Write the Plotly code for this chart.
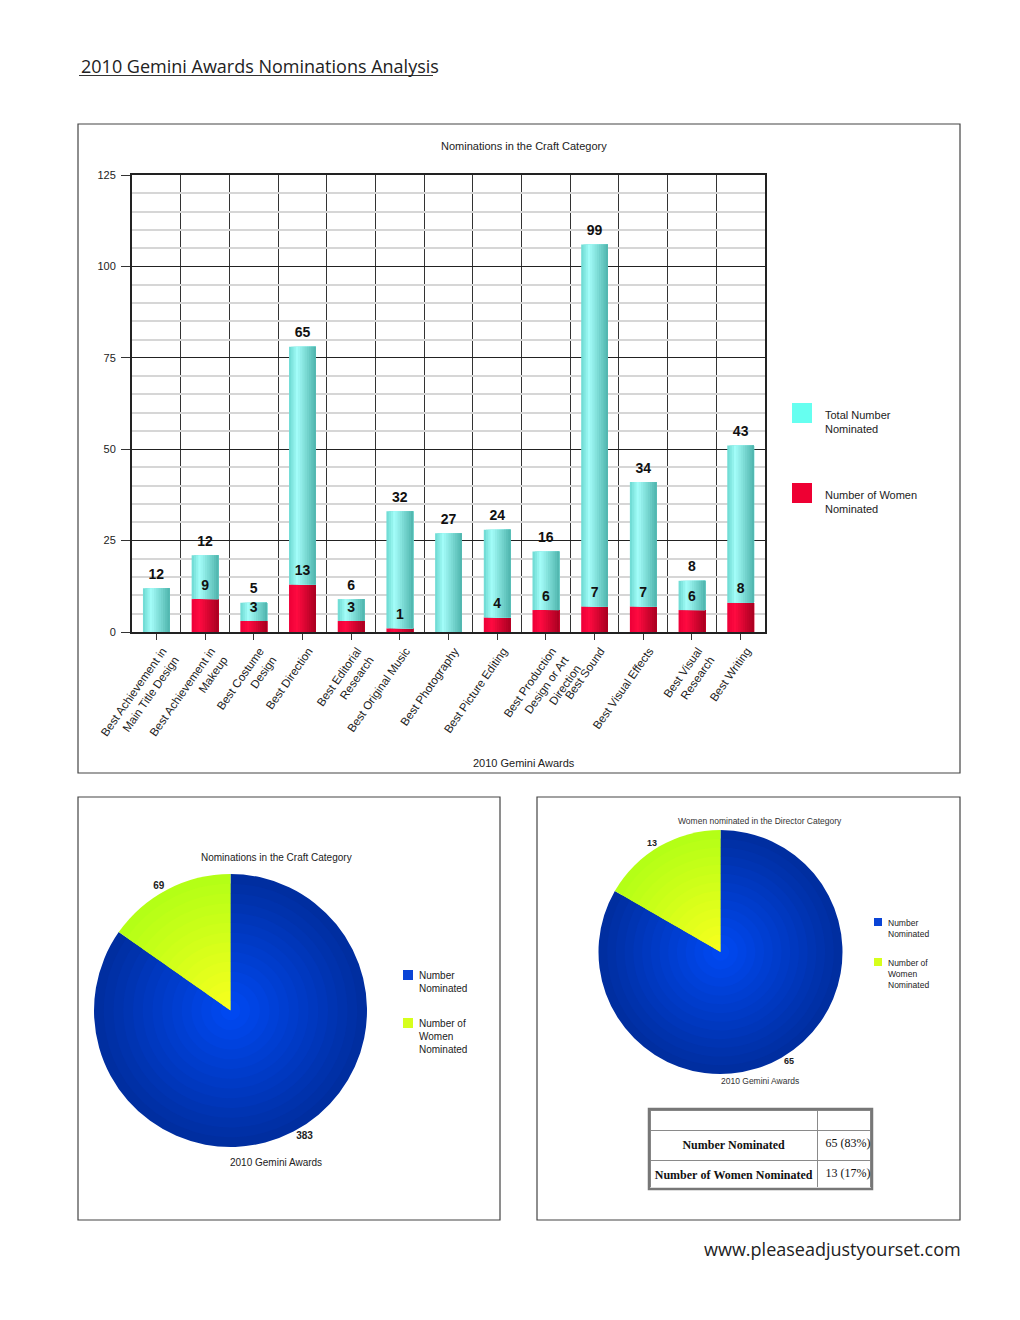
import numpy as np
import plotly.graph_objects as go

W, H = 1020, 1320

# data
categories = [
    "Best Achievement in<br>Main Title Design", "Best Achievement in<br>Makeup",
    "Best Costume<br>Design", "Best Direction", "Best Editorial<br>Research",
    "Best Original Music", "Best Photography", "Best Picture Editing",
    "Best Production<br>Design or Art<br>Direction", "Best Sound",
    "Best Visual Effects", "Best Visual<br>Research", "Best Writing",
]
total_nominated = [12, 12, 5, 65, 6, 32, 27, 24, 16, 99, 34, 8, 43]
women_nominated = [0, 9, 3, 13, 3, 1, 0, 4, 6, 7, 7, 6, 8]

pie_labels = ["Number Nominated", "Number of Women Nominated"]
craft_values = [383, 69]
director_values = [65, 13]


def px(x):
    return x / W


def py(y):
    return 1 - y / H


def grad(stops, t):
    # piecewise linear colour between (pos, (r,g,b)) stops
    for (p0, c0), (p1, c1) in zip(stops[:-1], stops[1:]):
        if t <= p1:
            f = (t - p0) / (p1 - p0) if p1 > p0 else 0
            c = [round(a + (b - a) * f) for a, b in zip(c0, c1)]
            return "rgb(%d,%d,%d)" % tuple(c)
    return "rgb(%d,%d,%d)" % stops[-1][1]


CYAN = [(0, (106, 216, 208)), (0.3, (164, 253, 249)), (1, (78, 180, 172))]
RED = [(0, (236, 0, 56)), (0.3, (255, 10, 64)), (1, (168, 0, 32))]
BLUE = [(0, (0, 46, 160)), (1, (0, 72, 240))]
YELLOW = [(0, (180, 255, 22)), (1, (246, 255, 30))]

fig = go.Figure()

# ---- stacked bars, drawn as thin strips to get the cylinder shading ----
idx = np.arange(len(categories))
women = np.array(women_nominated)
total = np.array(total_nominated)
BAR_W = 0.55
N_STRIP = 12
for base, vals, stops in [(np.zeros_like(women), women, RED), (women, total, CYAN)]:
    for i in range(N_STRIP):
        fig.add_bar(
            x=idx, y=vals, base=base,
            offset=-BAR_W / 2 + i * BAR_W / N_STRIP,
            width=BAR_W - i * BAR_W / N_STRIP,
            marker=dict(color=grad(stops, (i + 0.5) / N_STRIP), line=dict(width=0)),
            showlegend=False, hoverinfo="skip",
        )

# value labels; the invisible marker pushes the text a little higher
lbl_font = dict(family="Liberation Sans", size=14, color="#111")
ghost = dict(size=8, color="rgba(0,0,0,0)")
fig.add_scatter(x=idx, y=women + total, text=["<b>%d</b>" % v for v in total],
                mode="markers+text", marker=ghost, textposition="top center",
                textfont=lbl_font, showlegend=False, hoverinfo="skip")
has_w = women > 0
fig.add_scatter(x=idx[has_w], y=women[has_w], text=["<b>%d</b>" % v for v in women[has_w]],
                mode="markers+text", marker=ghost, textposition="top center",
                textfont=lbl_font, showlegend=False, hoverinfo="skip")

# ---- pies, layered rings for the radial shading ----
def add_pie(values, cx, cy, r, tsize):
    n = 14
    for k in range(n):
        rk = r * (1 - k / n)
        t = k / (n - 1)
        fig.add_pie(
            values=values, labels=pie_labels, sort=False,
            direction="clockwise", rotation=0,
            domain=dict(x=[px(cx - rk), px(cx + rk)], y=[py(cy + rk), py(cy - rk)]),
            marker=dict(colors=[grad(BLUE, t), grad(YELLOW, t)], line=dict(width=0)),
            textinfo="value" if k == 0 else "none",
            texttemplate="<b>%{value}</b>" if k == 0 else None,
            textposition="outside",
            textfont=dict(family="Liberation Sans", size=tsize, color="#222"),
            showlegend=False, hoverinfo="skip",
        )


add_pie(craft_values, 230.5, 1010.5, 136.5, 10)
add_pie(director_values, 720.5, 952, 122, 9)

# ---- table under the director pie ----
NB = "\u00a0"  # keep cell text on one line
pct = [round(100 * v / sum(director_values)) for v in director_values]
TAB_TOP, TAB_BOT = 1110, 1188
fig.add_table(
    domain=dict(x=[px(650), px(871)], y=[py(TAB_BOT), py(TAB_TOP)]),
    columnwidth=[169, 54],
    header=dict(values=["", ""], height=20, fill_color="white",
                line=dict(color="#8a8a8a", width=1)),
    cells=dict(
        values=[["<b>%s</b>" % l.replace(" ", NB) for l in pie_labels],
                ["%d%s(%d%%)" % (v, NB, p) for v, p in zip(director_values, pct)]],
        height=19, align=["center", "left"], fill_color="white",
        line=dict(color="#8a8a8a", width=1),
        font=dict(family="Liberation Serif", size=12, color="#111"),
    ),
)

# ---- frames, legends, titles ----
shapes = [
    dict(type="rect", x0=px(78), x1=px(960), y0=py(124), y1=py(773)),
    dict(type="rect", x0=px(78), x1=px(500), y0=py(797), y1=py(1220)),
    dict(type="rect", x0=px(537), x1=px(960), y0=py(797), y1=py(1220)),
]
for s in shapes:
    s.update(xref="paper", yref="paper", line=dict(color="#444", width=1.2))
shapes.append(dict(type="rect", xref="paper", yref="paper", x0=px(649), x1=px(872),
                   y0=py(TAB_BOT + 1), y1=py(TAB_TOP - 1), line=dict(color="#777", width=2.5)))
shapes.append(dict(type="line", xref="paper", yref="paper", x0=px(79), x1=px(433),
                   y0=py(75.5), y1=py(75.5), line=dict(color="#333", width=1)))

legend_boxes = [
    (792, 403, 20, "#66fff0", 823, 407, "Total Number<br>Nominated", 11),
    (792, 483, 20, "#ee0033", 823, 487, "Number of Women<br>Nominated", 11),
    (403, 970, 10, "#0a44d6", 417, 968, "Number<br>Nominated", 10),
    (403, 1018, 10, "#d6ff1c", 417, 1016, "Number of<br>Women<br>Nominated", 10),
    (874, 918, 8, "#0a44d6", 886, 916, "Number<br>Nominated", 8.5),
    (874, 958, 8, "#d6ff1c", 886, 956, "Number of<br>Women<br>Nominated", 8.5),
]
annotations = []
for x0, y0, sz, col, tx, ty, txt, fs in legend_boxes:
    shapes.append(dict(type="rect", xref="paper", yref="paper", x0=px(x0), x1=px(x0 + sz),
                       y0=py(y0 + sz), y1=py(y0), fillcolor=col, line=dict(width=0)))
    annotations.append(dict(x=px(tx), y=py(ty), xanchor="left", yanchor="top",
                            text=txt, align="left", font=dict(size=fs, color="#222")))


def label(x, y, text, size, **kw):
    d = dict(x=px(x), y=py(y), text=text, font=dict(size=size, color="#222"),
             xanchor="center", yanchor="middle")
    d.update(kw)
    annotations.append(d)


label(79, 66, "2010 Gemini Awards Nominations Analysis", 18, xanchor="left",
      font=dict(family="Open Sans", size=18, color="#222"))
label(963, 1249, "www.pleaseadjustyourset.com", 18, xanchor="right",
      font=dict(family="Open Sans", size=18, color="#222"))
label(524, 146, "Nominations in the Craft Category", 11)
label(524, 763, "2010 Gemini Awards", 11)
label(276, 857, "Nominations in the Craft Category", 10)
label(276, 1162, "2010 Gemini Awards", 10)
label(760, 821, "Women nominated in the Director Category", 8.5,
      font=dict(size=8.5, color="#333"))
label(760, 1081, "2010 Gemini Awards", 8.5, font=dict(size=8.5, color="#333"))

for a in annotations:
    a.update(xref="paper", yref="paper", showarrow=False)

fig.update_layout(
    template="none",
    width=W, height=H,
    margin=dict(l=0, r=0, t=0, b=0),
    paper_bgcolor="white", plot_bgcolor="white",
    font=dict(family="Liberation Sans", color="#222"),
    barmode="overlay",
    showlegend=False,
    shapes=shapes,
    annotations=annotations,
    xaxis=dict(
        domain=[px(132), px(765)], range=[-0.5, len(categories) - 0.5],
        tickmode="array", tickvals=idx, ticktext=categories, tickangle=-55,
        ticks="outside", ticklen=6, tickcolor="#333",
        tickfont=dict(size=11.6, color="#222"), ticklabelshift=6,
        showgrid=False, zeroline=False,
        showline=True, linecolor="#222", linewidth=1.5, mirror=True,
        minor=dict(tick0=-0.5, dtick=1, showgrid=True, gridcolor="#333",
                   gridwidth=1, ticks=""),
        anchor="y", fixedrange=True,
    ),
    yaxis=dict(
        domain=[py(632), py(175)], range=[0, 125], tick0=0, dtick=25,
        ticks="outside", ticklen=9, tickcolor="#333", ticklabelstandoff=3,
        tickfont=dict(size=11, color="#222"),
        showgrid=True, gridcolor="#222", gridwidth=1,
        minor=dict(dtick=5, showgrid=True, gridcolor="#d6d6d6", gridwidth=1.5),
        zeroline=False,
        showline=True, linecolor="#222", linewidth=2, mirror=True,
        anchor="x", fixedrange=True,
    ),
)

# the page's default body margin would shift the whole figure by 8px
fig.write_html("out.html", config={"displayModeBar": False},
               post_script="document.body.style.margin='0';")
